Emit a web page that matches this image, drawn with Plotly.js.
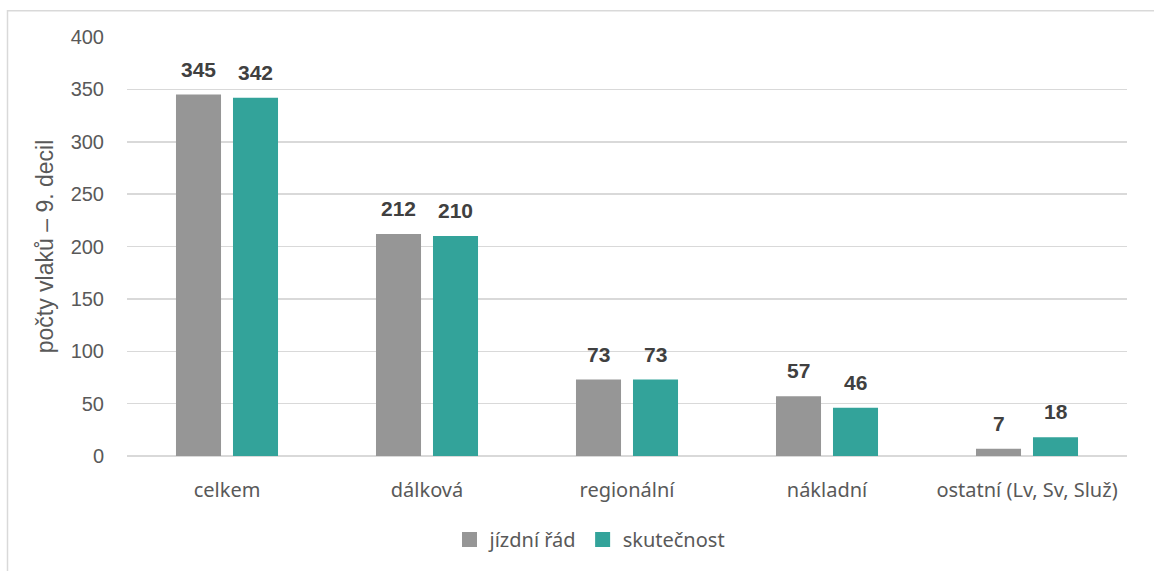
<!DOCTYPE html>
<html>
<head>
<meta charset="utf-8">
<script src="https://cdn.plot.ly/plotly-3.0.1.min.js"></script>
<style>
  html, body { margin: 0; padding: 0; background: #ffffff; }
  #chart { width: 1154px; height: 571px; }
</style>
</head>
<body>
<div id="chart"></div>
<script>
// Categories of trains and the two series (9th decile of train counts)
const categories = ['celkem', 'dálková', 'regionální', 'nákladní', 'ostatní (Lv, Sv, Služ)'];
const seriesNames = ['jízdní řád', 'skutečnost'];
const planned = [345, 212, 73, 57, 7];
const actual = [342, 210, 73, 46, 18];
const yTicks = [0, 50, 100, 150, 200, 250, 300, 350, 400];

const colors = ['#969696', '#33a39a'];
const arialFont = 'Liberation Sans, Arial, sans-serif';
const labelFont = { family: arialFont, size: 21, color: '#404040' };
const textFont = { family: 'Noto Sans, sans-serif', size: 20, color: '#595959' };

const seriesValues = [planned, actual];

const traces = seriesValues.map((vals, i) => ({
  type: 'bar',
  name: seriesNames[i],
  x: categories,
  y: vals,
  marker: { color: colors[i] },
  showlegend: false,
  hoverinfo: 'x+y+name'
}));

// legend entries with square swatches
seriesNames.forEach((name, i) => {
  traces.push({
    type: 'scatter', mode: 'markers', name: name,
    x: [null], y: [null],
    marker: { symbol: 'square', size: 15, color: colors[i] },
    showlegend: true, hoverinfo: 'skip'
  });
});

// value labels sit above each bar, shifted to their bar in the group
const groupOffset = 28.5;
const annotations = [];
seriesValues.forEach((vals, i) => {
  vals.forEach((v, j) => {
    annotations.push({
      x: categories[j], y: v, xref: 'x', yref: 'y',
      text: '<b>' + v + '</b>',
      showarrow: false,
      xanchor: 'center', yanchor: 'bottom',
      xshift: i === 0 ? -groupOffset : groupOffset,
      yshift: 12,
      font: labelFont
    });
  });
});

const layout = {
  width: 1154, height: 571,
  margin: { l: 127, r: 27, t: 37, b: 112 },
  paper_bgcolor: '#ffffff', plot_bgcolor: '#ffffff',
  barmode: 'group',
  bargap: 0.43,
  bargroupgap: 0.21,
  showlegend: true,
  legend: {
    orientation: 'h', x: 0.463, xanchor: 'center', y: -0.199, yanchor: 'middle',
    font: textFont, itemsizing: 'trace', itemwidth: 30, tracegroupgap: 0
  },
  xaxis: {
    type: 'category',
    tickfont: textFont,
    showgrid: false, zeroline: false,
    showline: false,
    ticks: '', ticklabelstandoff: 20
  },
  yaxis: {
    range: [0, 400],
    tickvals: yTicks,
    ticktext: yTicks.map(String),
    tickfont: { family: arialFont, size: 20, color: '#595959' },
    showgrid: true, gridcolor: '#d9d9d9', gridwidth: 1.5,
    zeroline: true, zerolinecolor: '#d9d9d9', zerolinewidth: 1.5,
    ticks: '', ticklabelstandoff: 22,
    title: {
      text: 'počty vlaků – 9. decil',
      font: { family: arialFont, size: 23, color: '#595959' },
      standoff: 10
    }
  },
  annotations: annotations,
  shapes: [{
    type: 'rect', xref: 'paper', yref: 'paper',
    x0: -0.1195, x1: 1.2, y0: -0.3, y1: 1.0628,
    line: { color: '#d9d9d9', width: 1.5 }, fillcolor: 'rgba(0,0,0,0)', layer: 'below'
  }]
};

Plotly.newPlot('chart', traces, layout, { displayModeBar: false, staticPlot: true });
</script>
</body>
</html>
